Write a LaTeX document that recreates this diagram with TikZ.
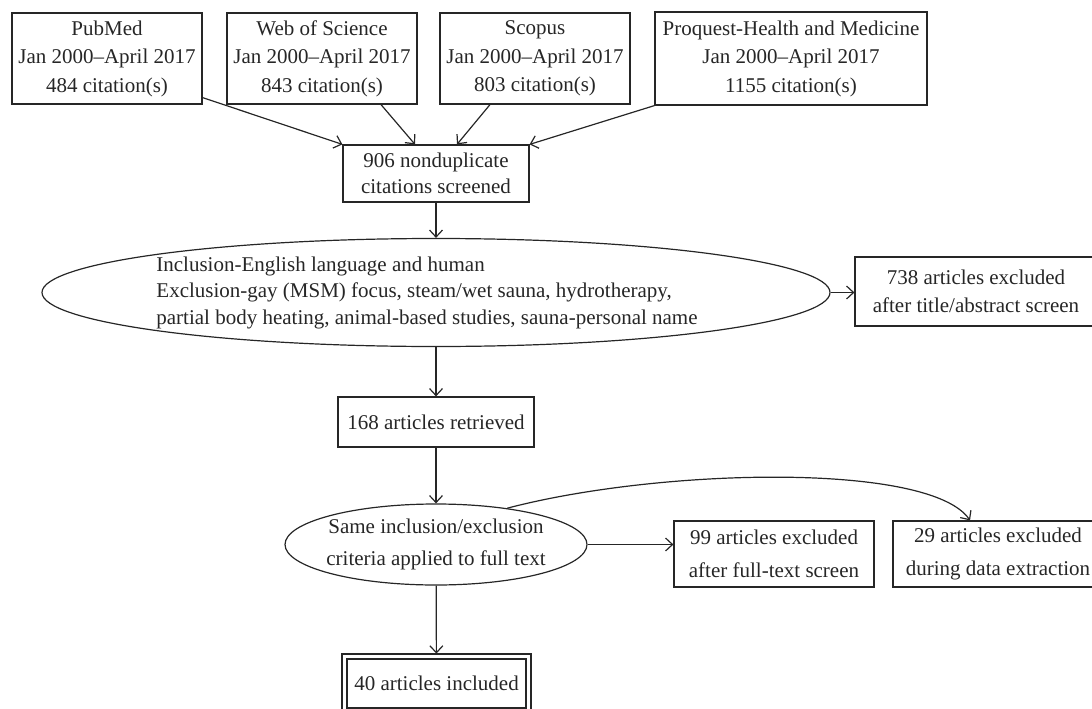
\documentclass[tikz,border=0pt]{standalone}
\usepackage{fontspec}
\setmainfont{Liberation Serif}
\usepackage{tikz}
\usetikzlibrary{shapes,arrows.meta,positioning}
\tikzset{>={Straight Barb[length=7pt,width=13pt]}}

\begin{document}
\begin{tikzpicture}[x=1pt,y=-1pt,
                    color=black!85, line width=1.2pt,
                    srcbox/.style={draw, align=center, inner sep=0pt, font=\fontsize{21}{28.5}\selectfont},
                    flowbox/.style={draw, align=center, inner sep=0pt, font=\fontsize{21}{26}\selectfont},
                    lowbox/.style={draw, align=center, inner sep=0pt, font=\fontsize{21}{32.5}\selectfont},
                    oval/.style={ellipse, draw, inner xsep=-10pt, inner ysep=0pt},
                    finalbox/.style={lowbox, double, double distance=3.8pt},
                   ]

\useasboundingbox (0,0) rectangle (1092,709);

% databases
\node[srcbox, minimum width=190pt, minimum height=91pt] (pubmed) at (107,58.5)
  {PubMed\\Jan 2000--April 2017\\484 citation(s)};
\node[srcbox, minimum width=190pt, minimum height=91pt] (wos) at (322,58.5)
  {Web of Science\\Jan 2000--April 2017\\843 citation(s)};
\node[srcbox, minimum width=190pt, minimum height=91pt] (scopus) at (535,58.5)
  {Scopus\\Jan 2000--April 2017\\803 citation(s)};
\node[srcbox, minimum width=272pt, minimum height=93pt] (proquest) at (791,58.5)
  {Proquest-Health and Medicine\\Jan 2000--April 2017\\1155 citation(s)};

\node[flowbox, minimum width=186pt, minimum height=57pt] (screened) at (436,173.5)
  {906 nonduplicate\\citations screened};

% title/abstract screen
\node[oval, minimum width=788pt, minimum height=108pt, align=left,
      font=\fontsize{21}{26.5}\selectfont] (screen) at (436,292.5)
  {Inclusion-English language and human\\Exclusion-gay (MSM) focus, steam/wet sauna, hydrotherapy,\\partial body heating, animal-based studies, sauna-personal name\hspace*{18pt}};
\node[flowbox, minimum width=242pt, minimum height=69pt, font=\fontsize{21}{28}\selectfont] (titleexcl) at (976,291.5)
  {738 articles excluded\\after title/abstract screen};

\node[flowbox, minimum width=196pt, minimum height=50pt] (retrieved) at (436,422)
  {168 articles retrieved};

% full-text screen
\node[oval, lowbox, ellipse, inner xsep=-10pt, inner ysep=0pt, minimum width=302pt, minimum height=81pt] (fulltext) at (436,544.5)
  {Same inclusion/exclusion\\criteria applied to full text};
\node[lowbox, minimum width=200pt, minimum height=66pt] (ftexcl) at (774,554)
  {99 articles excluded\\after full-text screen};
\node[lowbox, minimum width=210pt, minimum height=66pt] (dataexcl) at (998,554)
  {29 articles excluded\\during data extraction};

\node[finalbox, minimum width=184pt, minimum height=54pt] (included) at (436.5,683.5)
  {40 articles included};

% connectors
\draw[->] ([yshift=7pt]pubmed.south east) -- (screened.north west);
\draw[->] ([xshift=59pt]wos.south) -- ([xshift=-21pt]screened.north);
\draw[->] ([xshift=-45pt]scopus.south) -- ([xshift=21pt]screened.north);
\draw[->] (proquest.south west) -- (screened.north east);
\draw[->] (screened) -- (screen);
\draw[->] (screen.east) -- (titleexcl.west |- screen.east);
\draw[->] (screen) -- (retrieved);
\draw[->] (retrieved) -- (fulltext);
\draw[->] (fulltext.east) -- (fulltext.east -| ftexcl.west);
\draw[->] (fulltext.27) .. controls (660,468) and (930,462) .. ([xshift=-28pt]dataexcl.north);
\draw[->, shorten >=2.3pt] (fulltext) -- (included);

\end{tikzpicture}
\end{document}
